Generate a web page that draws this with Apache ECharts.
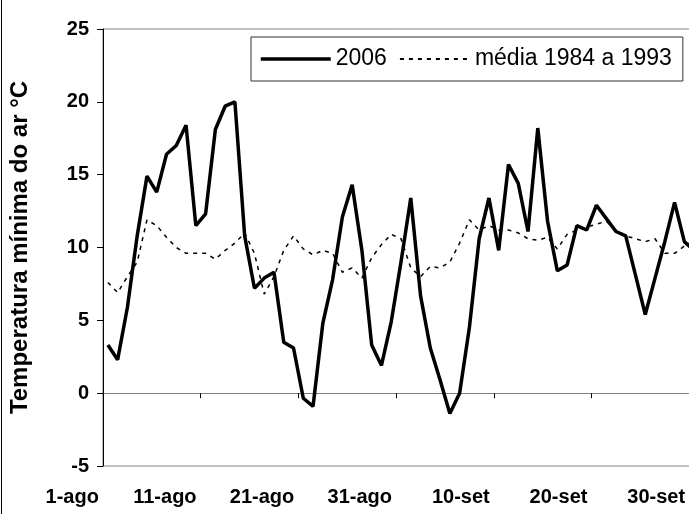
<!DOCTYPE html>
<html>
<head>
<meta charset="utf-8">
<script src="https://cdn.jsdelivr.net/npm/echarts@6/dist/echarts.min.js"></script>
<style>
  html, body { margin: 0; padding: 0; background: #fff; }
  #chart { position: absolute; left: 0; top: 0; width: 689px; height: 514px; }
  #frame { position: absolute; left: 1px; top: 0; width: 1px; height: 514px; background: #000; }
</style>
</head>
<body>
<div id="chart"></div>
<div id="frame"></div>
<script>
const categories = [
  '1-ago','2-ago','3-ago','4-ago','5-ago','6-ago','7-ago','8-ago','9-ago','10-ago',
  '11-ago','12-ago','13-ago','14-ago','15-ago','16-ago','17-ago','18-ago','19-ago','20-ago',
  '21-ago','22-ago','23-ago','24-ago','25-ago','26-ago','27-ago','28-ago','29-ago','30-ago',
  '31-ago','1-set','2-set','3-set','4-set','5-set','6-set','7-set','8-set','9-set',
  '10-set','11-set','12-set','13-set','14-set','15-set','16-set','17-set','18-set','19-set',
  '20-set','21-set','22-set','23-set','24-set','25-set','26-set','27-set','28-set','29-set',
  '30-set'
];

const serie2006 = [
  3.3, 2.3, 5.9, 10.8, 14.9, 13.8, 16.4, 17.0, 18.4, 11.5,
  12.3, 18.1, 19.7, 20.0, 10.8, 7.2, 7.9, 8.3, 3.5, 3.1,
  -0.35, -0.9, 4.8, 7.8, 12.1, 14.3, 9.8, 3.3, 1.9, 4.9,
  9.0, 13.4, 6.7, 3.1, 0.9, -1.4, 0.0, 4.5, 10.6, 13.4,
  9.8, 15.7, 14.4, 11.1, 18.2, 11.8, 8.4, 8.8, 11.5, 11.2,
  12.9, 12.0, 11.1, 10.8, 8.1, 5.4, 7.9, 10.4, 13.1, 10.4,
  9.8
];

const serieMedia = [
  7.6, 6.9, 8.0, 9.0, 11.9, 11.5, 10.7, 10.0, 9.6, 9.6,
  9.6, 9.2, 9.8, 10.3, 11.0, 9.6, 6.8, 8.0, 9.8, 10.8,
  9.9, 9.5, 9.8, 9.6, 8.3, 8.6, 7.9, 9.3, 10.2, 10.9,
  10.6, 8.6, 8.0, 8.7, 8.6, 9.0, 10.3, 11.9, 11.2, 11.5,
  11.2, 11.2, 11.0, 10.6, 10.5, 10.7, 9.9, 10.9, 11.2, 11.4,
  11.6, 11.8, 11.2, 10.8, 10.6, 10.4, 10.6, 9.6, 9.6, 10.1,
  10.5
];

const yTicks = { min: -5, max: 25, step: 5 };
const seriesNames = ['2006', 'média 1984 a 1993'];
const yTitle = 'Temperatura mínima do ar °C';

const FONT = '"Liberation Sans", Arial, sans-serif';

const chart = echarts.init(document.getElementById('chart'), null, { renderer: 'canvas' });
chart.setOption({
  animation: false,
  backgroundColor: '#fff',
  grid: {
    left: 103, top: 29, bottom: 48, right: -10,
    outerBoundsMode: 'none',
    containLabel: false,
    show: true, borderColor: '#808080', borderWidth: 1, backgroundColor: 'transparent'
  },
  legend: {
    data: [
      { name: seriesNames[0], lineStyle: { width: 3.5 } },
      { name: seriesNames[1] }
    ],
    left: 251, top: 37,
    orient: 'horizontal',
    itemWidth: 70, itemHeight: 20, itemGap: 12,
    padding: [10, 11, 10, 8],
    borderColor: '#333', borderWidth: 1, backgroundColor: '#fff',
    itemStyle: { opacity: 0 },
    textStyle: { fontFamily: FONT, fontSize: 23, color: '#000', lineHeight: 24 }
  },
  xAxis: [
    {
      type: 'category',
      data: categories,
      boundaryGap: true,
      position: 'bottom',
      axisLine: { show: false, onZero: false },
      axisTick: { show: false },
      axisLabel: {
        show: true, interval: 9, margin: 21, align: 'right', padding: [0, 9, 0, 0],
        fontFamily: FONT, fontSize: 20, fontWeight: 'bold', color: '#000'
      },
      splitLine: { show: false }
    },
    {
      type: 'category',
      data: categories,
      boundaryGap: true,
      position: 'top',
      axisLine: { show: true, onZero: true, lineStyle: { color: '#808080', width: 1 } },
      axisTick: { show: true, interval: 9, length: 5, inside: true, lineStyle: { color: '#000' } },
      axisLabel: { show: false },
      splitLine: { show: false }
    }
  ],
  yAxis: {
    type: 'value',
    min: yTicks.min, max: yTicks.max, interval: yTicks.step,
    axisLine: { show: true, onZero: false, lineStyle: { color: '#000', width: 1 } },
    axisTick: { show: true, length: 6, lineStyle: { color: '#000' } },
    axisLabel: { margin: 14, fontFamily: FONT, fontSize: 20, fontWeight: 'bold', color: '#000' },
    splitLine: { show: false },
    name: yTitle,
    nameLocation: 'middle',
    nameRotate: 90,
    nameGap: 71,
    nameTextStyle: { fontFamily: FONT, fontSize: 24, fontWeight: 'bold', color: '#000' }
  },
  series: [
    {
      name: seriesNames[1],
      type: 'line',
      data: serieMedia,
      xAxisIndex: 0,
      symbol: 'none',
      z: 2,
      lineStyle: { color: '#000', width: 1.5, type: [4, 5] },
      itemStyle: { color: '#000' }
    },
    {
      name: seriesNames[0],
      type: 'line',
      data: serie2006,
      xAxisIndex: 0,
      symbol: 'none',
      z: 3,
      lineStyle: { color: '#000', width: 3.5, type: 'solid' },
      itemStyle: { color: '#000' }
    }
  ]
});
</script>
</body>
</html>
